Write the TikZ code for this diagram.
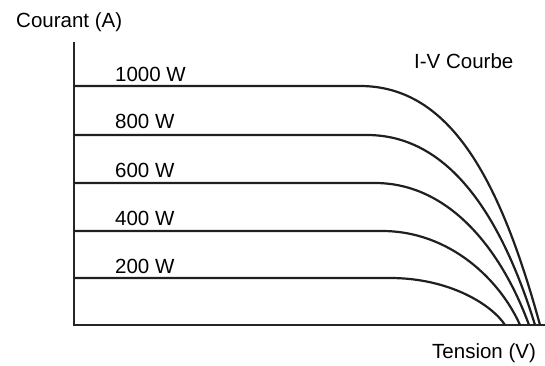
\documentclass[tikz,border=0pt]{standalone}
\usepackage{fontspec}
\setmainfont{Liberation Sans}
\usepackage{tikz}

\begin{document}
\begin{tikzpicture}[x=1pt,y=1pt,
		axis_style/.style={draw=black!85,line width=2.6pt},
		curve_style/.style={draw=black!88,line width=2.2pt},
		label_style/.style={anchor=base west,inner sep=0pt,font=\fontsize{20.5}{24}\selectfont}]
		
		\useasboundingbox (-74,-40) rectangle (471,325);
		
		% axes
		\draw[axis_style] (0,283) -- (0,0) -- (471,0);
		
		\node[label_style] (ylab) at (-58,298) {Courant (A)};
		\node[label_style] (xlab) at (358,-33) {Tension (V)};
		\node[label_style] (title) at (340,257) {I-V Courbe};
		
		% curves
		\draw[curve_style] (0,239) -- (286,239) .. controls (376,239) and (426,146) .. (466,0);
		\draw[curve_style] (0,190) -- (293,190) .. controls (376,190) and (428,107) .. (461,0);
		\draw[curve_style] (0,142) -- (301,142) .. controls (376,142) and (428,74) .. (455,0);
		\draw[curve_style] (0,94) -- (308,94) .. controls (376,94) and (426,45) .. (446,0);
		\draw[curve_style] (0,47) -- (316,47) .. controls (376,47) and (418,20) .. (431,0);
		
		\node[label_style] (w1000) at (41,244) {1000 W};
		\node[label_style] (w800) at (41,197) {800 W};
		\node[label_style] (w600) at (41,148) {600 W};
		\node[label_style] (w400) at (41,100) {400 W};
		\node[label_style] (w200) at (41,52) {200 W};

		\end{tikzpicture}
\end{document}
